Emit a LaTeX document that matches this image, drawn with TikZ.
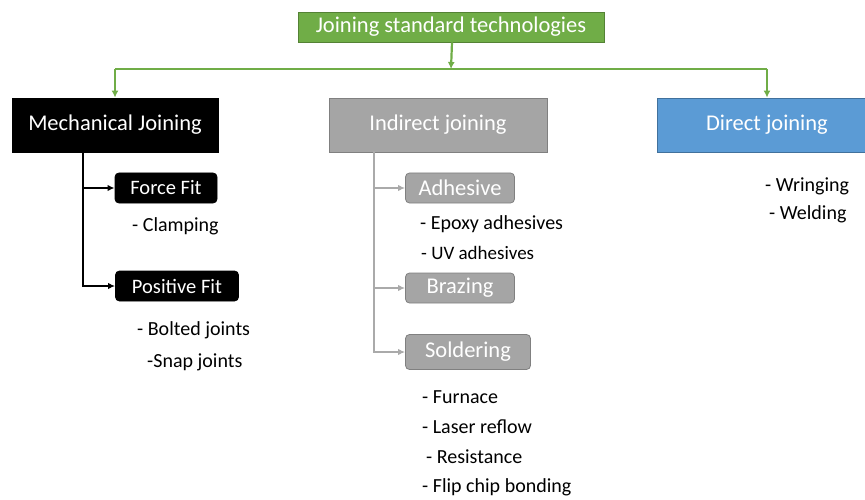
\documentclass[tikz,border=0pt]{standalone}
\usepackage{fontspec}
\setmainfont{Carlito}
\usetikzlibrary{arrows.meta}
\definecolor{topgreen}{RGB}{112,173,71}
\definecolor{darkgreen}{RGB}{84,130,53}
\definecolor{boxgray}{RGB}{165,165,165}
\definecolor{linegray}{RGB}{170,170,170}
\definecolor{boxblue}{RGB}{91,155,213}
\definecolor{darkblue}{RGB}{65,113,156}
\tikzset{
  bigbox/.style={
    draw, line width=0.8pt, text=white, inner sep=0pt,
    minimum height=54pt, font=\fontsize{22.5}{26}\selectfont
  },
  smallbox/.style={
    draw, line width=0.8pt, rounded corners=4pt, text=white, inner sep=0pt,
    minimum height=30pt, font=\fontsize{20.5}{24}\selectfont
  },
  graybox/.style={smallbox, fill=boxgray, draw=gray, font=\fontsize{22.5}{26}\selectfont},
  item/.style={anchor=west, inner sep=0pt, font=\fontsize{20}{24}\selectfont},
  greenline/.style={draw=topgreen, line width=2.2pt, -{Latex[length=7pt,width=7pt]}},
  blackline/.style={draw=black, line width=2.6pt, -{Latex[length=7pt,width=6.5pt]}},
  grayline/.style={draw=linegray, line width=2pt, -{Latex[length=7pt,width=6.5pt]}}
}
\begin{document}
\begin{tikzpicture}[x=1pt,y=-1pt]
  \useasboundingbox (0,0) rectangle (865,500);
  % top of the tree
  \node[bigbox, fill=topgreen, draw=darkgreen, minimum width=306pt, minimum height=30pt]
    (joining) at (451,27) {Joining standard technologies};
  \coordinate (bus) at (452,69);
  % three families
  \node[bigbox, fill=black, draw=black, minimum width=206pt] (mech) at (115,125) {Mechanical Joining};
  \node[bigbox, fill=boxgray, draw=gray, minimum width=218pt] (indirect) at (438,125) {Indirect joining};
  \node[bigbox, fill=boxblue, draw=darkblue, minimum width=220pt] (direct) at (767,125) {Direct joining};
  \draw[greenline] (joining.south -| bus) -- (bus -| joining.south |- indirect.north);
  \draw[greenline, -] (bus -| mech) -- (bus -| direct);
  \draw[greenline] (bus -| mech) -- (mech.north);
  \draw[greenline] (bus -| direct) -- (direct.north);
  % mechanical joining
  \node[smallbox, fill=black, draw=black, minimum width=102pt] (force) at (166,188) {Force Fit};
  \node[smallbox, fill=black, draw=black, minimum width=123pt] (positive) at (177,286) {Positive Fit};
  \coordinate (mtrunk) at (83,151);
  \draw[blackline] (mtrunk) |- (force.west);
  \draw[blackline] (mtrunk) |- (positive.west);
  \node[item] (clamping) at (132,226) {- Clamping};
  \node[item] (bolted) at (137,330) {- Bolted joints};
  \node[item] (snap) at (147,362) {-Snap joints};
  % indirect joining
  \node[graybox, minimum width=109pt] (adhesive) at (460,188) {Adhesive};
  \node[graybox, minimum width=109pt] (brazing) at (460,288) {Brazing};
  \node[graybox, minimum width=125pt, minimum height=35pt] (soldering) at (468,352) {Soldering};
  \coordinate (itrunk) at (374,151);
  \draw[grayline] (itrunk) |- (adhesive.west);
  \draw[grayline] (itrunk) |- (brazing.west);
  \draw[grayline] (itrunk) |- (soldering.west);
  \node[item] (epoxy) at (420,224) {- Epoxy adhesives};
  \node[item, font=\fontsize{19}{22}\selectfont] (uv) at (421,253) {- UV adhesives};
  \node[item] (furnace) at (422,397) {- Furnace};
  \node[item] (laser) at (422,427) {- Laser reflow};
  \node[item] (resistance) at (426,457) {- Resistance};
  \node[item] (flipchip) at (422,487) {- Flip chip bonding};
  % direct joining
  \node[item] (wringing) at (765,186) {- Wringing};
  \node[item] (welding) at (769,214) {- Welding};
\end{tikzpicture}
\end{document}
